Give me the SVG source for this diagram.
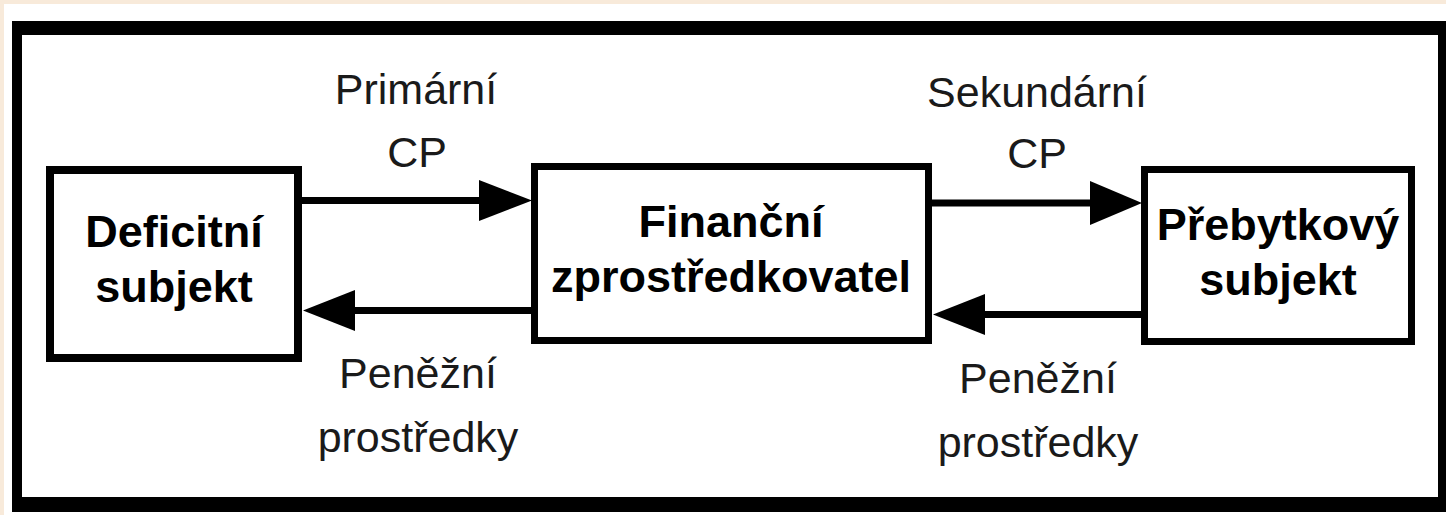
<svg xmlns="http://www.w3.org/2000/svg" width="1446" height="515" viewBox="0 0 1446 515">
<style>
.node{fill:#fff;stroke:#000}
.nt{font-family:"Liberation Sans",Arial,sans-serif;font-weight:bold;font-size:45px;fill:#000;text-anchor:middle}
.lt{font-family:"Liberation Sans",Arial,sans-serif;font-size:43px;fill:#1a1a1a;text-anchor:middle}
.ln{stroke:#000;stroke-width:7;fill:none}
.ah{fill:#000}
</style>
<rect x="0" y="0" width="1446" height="515" fill="#F8EADA"/>
<rect x="4" y="4" width="1442" height="511" fill="#fff"/>
<g id="frame">
<rect x="12" y="21" width="1434" height="491" fill="#000"/>
<rect x="22" y="35" width="1416" height="462" fill="#fff"/>
</g>
<g id="connectors">
<line class="ln" x1="299" y1="200.5" x2="485" y2="200.5"/>
<polygon class="ah" points="479,180 532,200.5 479,221"/>
<line class="ln" x1="534" y1="310.5" x2="350" y2="310.5"/>
<polygon class="ah" points="355,290 303,310.5 355,331"/>
<line class="ln" x1="928" y1="203" x2="1095" y2="203"/>
<polygon class="ah" points="1090,181 1142,203 1090,225"/>
<line class="ln" x1="1144" y1="314.5" x2="980" y2="314.5"/>
<polygon class="ah" points="985,294 933,314.5 985,335"/>
<text class="lt" x="416" y="104">Primární</text>
<text class="lt" x="417" y="167">CP</text>
<text class="lt" x="1037" y="107">Sekundární</text>
<text class="lt" x="1037" y="168">CP</text>
<text class="lt" x="418" y="388">Peněžní</text>
<text class="lt" x="418" y="452">prostředky</text>
<text class="lt" x="1038" y="393">Peněžní</text>
<text class="lt" x="1038" y="457">prostředky</text>
</g>
<g id="deficitni">
<rect class="node" x="50" y="170" width="248" height="188" stroke-width="8"/>
<text class="nt" x="174" y="247">Deficitní</text>
<text class="nt" x="174" y="302">subjekt</text>
</g>
<g id="financni">
<rect class="node" x="534.5" y="166.5" width="394" height="174" stroke-width="7"/>
<text class="nt" x="731" y="237">Finanční</text>
<text class="nt" x="731" y="292">zprostředkovatel</text>
</g>
<g id="prebytkovy">
<rect class="node" x="1144.5" y="169.5" width="267" height="172" stroke-width="7"/>
<text class="nt" x="1278" y="240">Přebytkový</text>
<text class="nt" x="1278" y="295">subjekt</text>
</g>
</svg>
